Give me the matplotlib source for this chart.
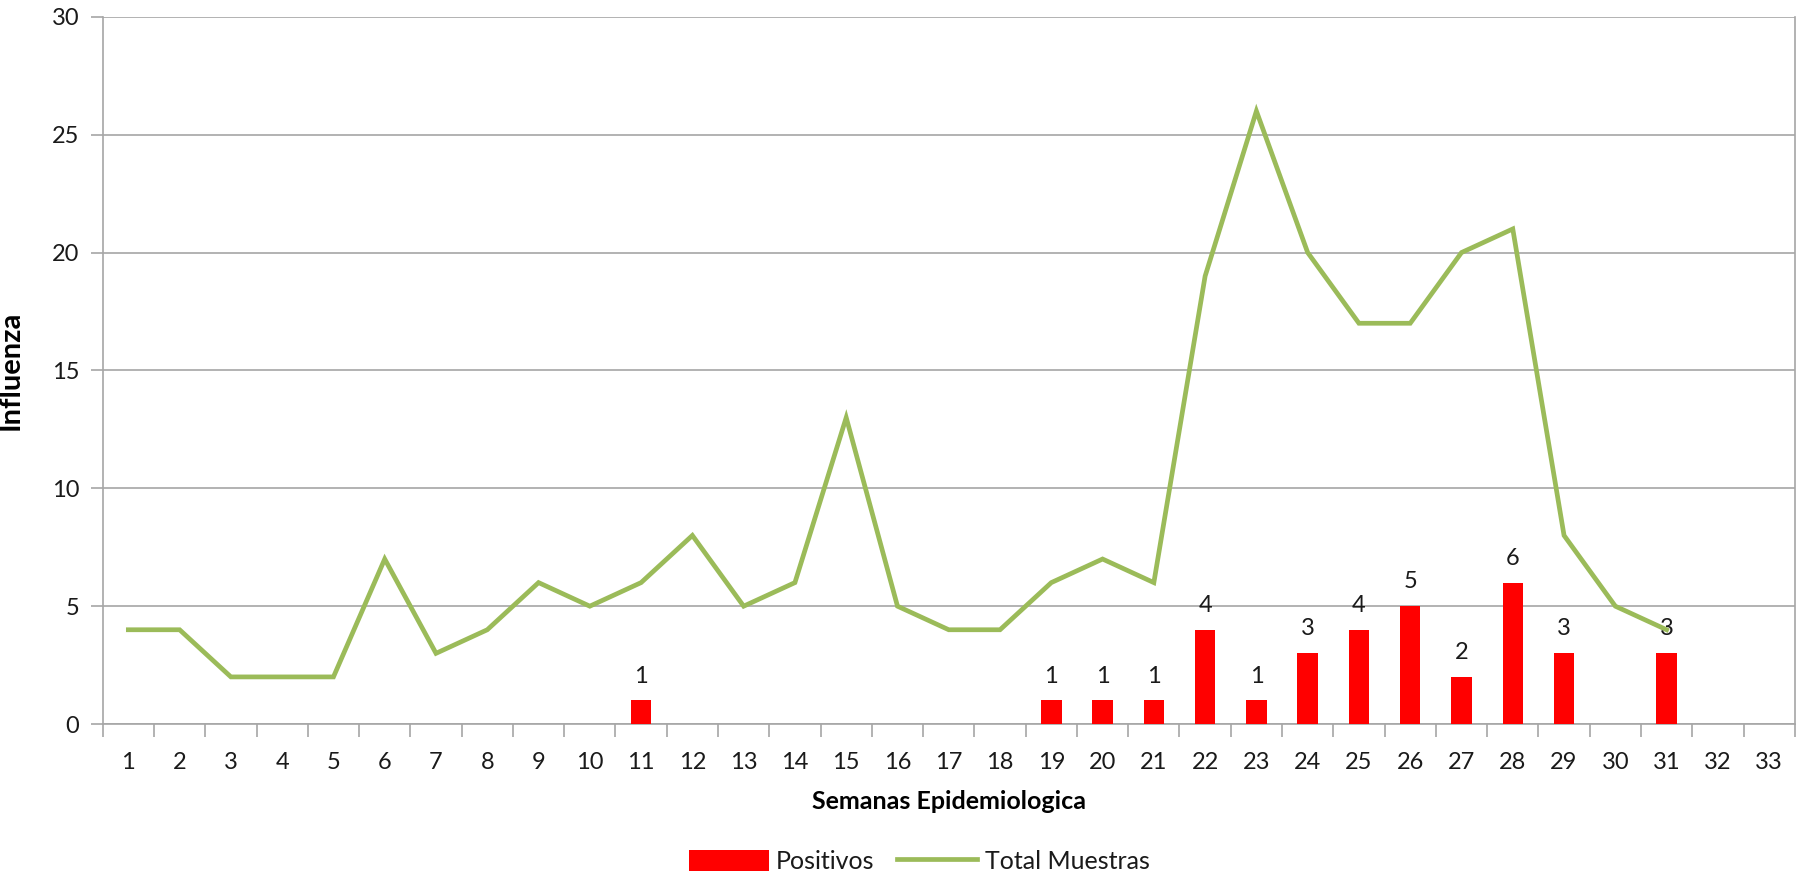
import matplotlib
matplotlib.use("Agg")
import matplotlib.pyplot as plt
import numpy as np

weeks = list(range(1, 34))
total_weeks = list(range(1, 32))
total_muestras = [4, 4, 2, 2, 2, 7, 3, 4, 6, 5, 6, 8, 5, 6, 13, 5, 4, 4, 6, 7, 6,
                  19, 26, 20, 17, 17, 20, 21, 8, 5, 4]
pos_weeks = [11, 19, 20, 21, 22, 23, 24, 25, 26, 27, 28, 29, 31]
positivos = [1, 1, 1, 1, 4, 1, 3, 4, 5, 2, 6, 3, 3]

plt.rcParams['font.family'] = ['Lato', 'DejaVu Sans']

fig = plt.figure(figsize=(18.02, 8.83), dpi=100)
ax = fig.add_axes([0.057, 0.180, 0.939, 0.801])

grey = '#A6A6A6'
txt = '#1a1a1a'
bars = ax.bar(pos_weeks, positivos, width=0.4, color='#FF0000', label='Positivos', zorder=3)
line, = ax.plot(total_weeks, total_muestras, color='#9BBB59', lw=3.4, label='Total Muestras',
                zorder=4, solid_joinstyle='miter')

for x, v in zip(pos_weeks, positivos):
    ax.annotate(str(v), (x, v), xytext=(0, 10), textcoords='offset points',
                ha='center', va='bottom', fontsize=17, color=txt, zorder=5)

ax.set_xlim(0.5, 33.5)
ax.set_ylim(0, 30)
ax.set_yticks(range(0, 31, 5))
ax.yaxis.grid(True, color=grey, lw=1.2, zorder=0)
ax.set_axisbelow(True)

ax.set_xticks(weeks)
ax.set_xticklabels([str(w) for w in weeks])
ax.set_xticks(np.arange(0.5, 34, 1), minor=True)
ax.tick_params(axis='x', which='major', length=0, pad=20, labelsize=17, labelcolor=txt)
ax.tick_params(axis='x', which='minor', length=9, width=1.2, color=grey)
ax.tick_params(axis='y', which='major', length=9, width=1.2, color=grey, labelsize=17,
               labelcolor=txt, pad=8)

for side in ['left', 'bottom', 'right']:
    ax.spines[side].set_color(grey)
    ax.spines[side].set_linewidth(1.2)
ax.spines['top'].set_visible(False)

ax.set_xlabel('Semanas Epidemiologica', fontsize=18, fontweight='bold', labelpad=12, color='black')
ax.set_ylabel('Influenza', fontsize=21, fontweight='bold', labelpad=20, color='black')

fig.legend([bars, line], ['Positivos', 'Total Muestras'], loc='lower center',
           bbox_to_anchor=(0.51, -0.014), ncol=2, frameon=False,
           fontsize=18, handlelength=3.2, handleheight=0.9, columnspacing=0.9,
           handletextpad=0.3, labelcolor=txt)

fig.savefig('out.png', dpi=100, facecolor='white')
